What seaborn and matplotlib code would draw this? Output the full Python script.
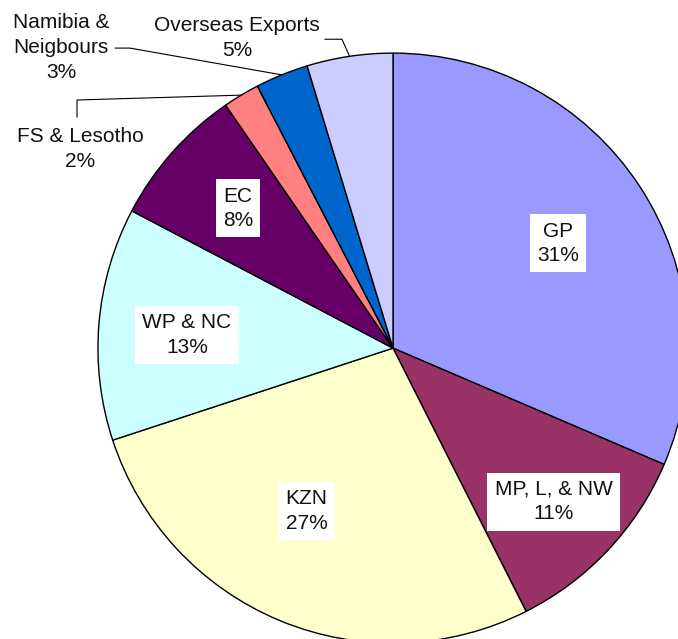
import numpy as np
import matplotlib.pyplot as plt
import seaborn as sns

# ── Data ─────────────────────────────────────────────────────────────────────
regions = ["GP", "MP, L, & NW", "KZN", "WP & NC", "EC",
           "FS & Lesotho", "Namibia &\nNeigbours", "Overseas Exports"]
shares = [31.45, 11.1, 27.4, 12.75, 7.7, 2.0, 2.9, 4.7]
colors = ["#9999FF", "#993366", "#FFFFCC", "#CCFFFF", "#660066",
          "#FF8080", "#0066CC", "#CCCCFF"]

# ── Style ────────────────────────────────────────────────────────────────────
sns.set_theme(style="white")
plt.rcParams["font.family"] = ["Liberation Sans", "DejaVu Sans"]

fig = plt.figure(figsize=(6.78, 6.39), dpi=100)
ax = fig.add_axes([0, 0, 1, 1])

wedges, _ = ax.pie(shares, colors=sns.color_palette(colors), startangle=90,
                   counterclock=False, radius=1.0,
                   wedgeprops={"edgecolor": "black", "linewidth": 1.0})

ax.set_aspect("auto")
ax.set_xlim(-1.332, 0.966)
ax.set_ylim(-0.986, 1.180)
ax.axis("off")


def mid_angle(w):
    return np.deg2rad((w.theta1 + w.theta2) / 2)


# ── Inside labels (white boxes) ──────────────────────────────────────────────
inside = {0: (0.663, -1.0), 1: (0.753, -0.5), 2: (0.625, -5.5),
          3: (0.70, 1.1), 4: (0.708, -0.5)}
for i, (rad, shift) in inside.items():
    a = mid_angle(wedges[i]) + np.deg2rad(shift)
    ax.text(rad * np.cos(a), rad * np.sin(a),
            f"{regions[i]}\n{shares[i]:.0f}%", color="#111111",
            ha="center", va="center", fontsize=15, linespacing=1.35,
            bbox=dict(boxstyle="square,pad=0.35", fc="white", ec="none"))

# ── Outside labels with leader lines ─────────────────────────────────────────
outside = {
    7: {"text": (-0.529, 1.051), "path": [(-0.173, 1.047), (-0.231, 1.047)]},
    6: {"text": (-1.125, 1.020), "path": [(-0.892, 1.017), (-0.942, 1.017)]},
    5: {"text": (-1.061, 0.675), "path": [(-1.071, 0.841), (-1.071, 0.783)]},
}
for i, spec in outside.items():
    a = mid_angle(wedges[i])
    xs = [np.cos(a)] + [p[0] for p in spec["path"]]
    ys = [np.sin(a)] + [p[1] for p in spec["path"]]
    ax.plot(xs, ys, color="black", linewidth=0.8)
    tx, ty = spec["text"]
    ax.text(tx, ty, f"{regions[i]}\n{shares[i]:.0f}%", color="#111111",
            ha="center", va="center", fontsize=15, linespacing=1.4)

fig.savefig("out.png", dpi=100)
